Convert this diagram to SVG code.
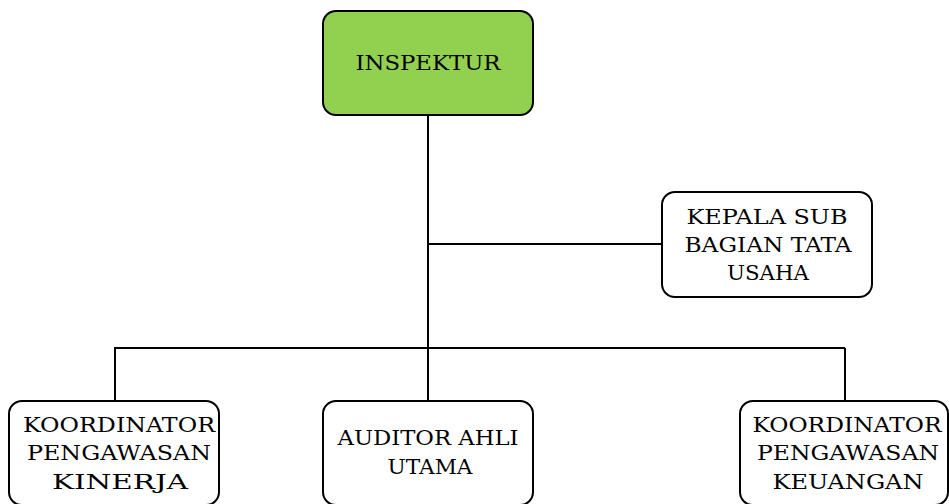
<svg xmlns="http://www.w3.org/2000/svg" width="949" height="504" viewBox="0 0 949 504">
  <style>
    .box { fill: #ffffff; stroke: #000000; stroke-width: 2; }
    .head { fill: #92d050; }
    .wire { fill: none; stroke: #000000; stroke-width: 2; }
    text { font-family: "DejaVu Serif", "Liberation Serif", serif; font-size: 20px; fill: #000000; text-anchor: middle; }
  </style>
  <rect width="949" height="504" fill="#ffffff"/>
  <g id="connectors">
    <path class="wire" d="M428 115 V401"/>
    <path class="wire" d="M428 244 H662"/>
    <path class="wire" d="M114 348 H845"/>
    <path class="wire" d="M115 348 V401"/>
    <path class="wire" d="M845 348 V401"/>
  </g>
  <g id="inspektur">
    <rect class="box head" x="323" y="11" width="210" height="104" rx="13"/>
    <text x="428" y="70" textLength="145" lengthAdjust="spacingAndGlyphs">INSPEKTUR</text>
  </g>
  <g id="kepala-sub-bagian">
    <rect class="box" x="662" y="192" width="210" height="105" rx="13"/>
    <text x="767" y="224" textLength="161" lengthAdjust="spacingAndGlyphs">KEPALA SUB</text>
    <text x="768" y="252" textLength="167" lengthAdjust="spacingAndGlyphs">BAGIAN TATA</text>
    <text x="768" y="280" textLength="82" lengthAdjust="spacingAndGlyphs">USAHA</text>
  </g>
  <g id="koordinator-kinerja">
    <rect class="box" x="9" y="401" width="210" height="104" rx="13"/>
    <text x="119" y="432" textLength="192" lengthAdjust="spacingAndGlyphs">KOORDINATOR</text>
    <text x="119" y="460" textLength="184" lengthAdjust="spacingAndGlyphs">PENGAWASAN</text>
    <text x="120" y="489" textLength="136" lengthAdjust="spacingAndGlyphs">KINERJA</text>
  </g>
  <g id="auditor-ahli">
    <rect class="box" x="323" y="401" width="210" height="104" rx="13"/>
    <text x="428" y="445" textLength="181" lengthAdjust="spacingAndGlyphs">AUDITOR AHLI</text>
    <text x="430" y="474" textLength="85" lengthAdjust="spacingAndGlyphs">UTAMA</text>
  </g>
  <g id="koordinator-keuangan">
    <rect class="box" x="740" y="401" width="208" height="104" rx="13"/>
    <text x="847" y="432" textLength="189" lengthAdjust="spacingAndGlyphs">KOORDINATOR</text>
    <text x="848" y="460" textLength="182" lengthAdjust="spacingAndGlyphs">PENGAWASAN</text>
    <text x="848" y="489" textLength="151" lengthAdjust="spacingAndGlyphs">KEUANGAN</text>
  </g>
</svg>
